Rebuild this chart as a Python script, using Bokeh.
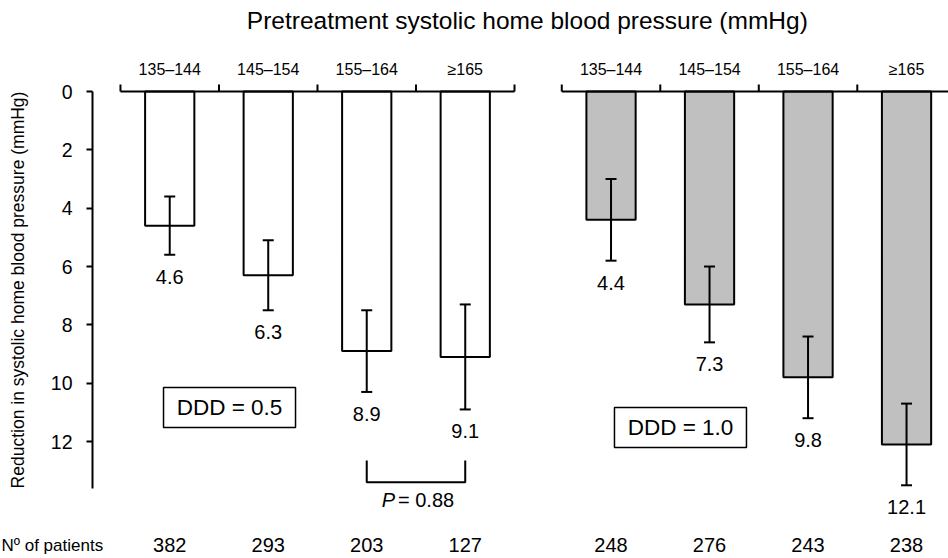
from bokeh.plotting import figure
from bokeh.models import (Range1d, LinearAxis, FixedTicker, ColumnDataSource,
                          Whisker, TeeHead)
from bokeh.core.properties import value
from bokeh.embed import file_html
from bokeh.resources import INLINE

# ---------------- data ----------------
categories = ["135–144", "145–154", "155–164", "≥165"]
ddd05_mean = [4.6, 6.3, 8.9, 9.1]
ddd05_err = [1.0, 1.2, 1.4, 1.8]
ddd10_mean = [4.4, 7.3, 9.8, 12.1]
ddd10_err = [1.4, 1.3, 1.4, 1.4]
ddd05_n = [382, 293, 203, 127]
ddd10_n = [248, 276, 243, 238]
y_ticks = [0, 2, 4, 6, 8, 10, 12]
group_labels = ["DDD = 0.5", "DDD = 1.0"]
p_value_label = "= 0.88"
title_text = "Pretreatment systolic home blood pressure (mmHg)"
y_label = "Reduction in systolic home blood pressure (mmHg)"
n_label = "Nº of patients"

# ---------------- layout constants ----------------
FONT = "Liberation Sans"
GAP = 0.48          # gap between the two groups (category units)
BAR_W = 0.5
Y_AXIS_X = -0.284   # position of the vertical axis
Y_AXIS_END = 13.6
TICK_LEN = 0.24     # top-axis tick length (data units)
N_ROW_Y = 15.56
TEXT = "black"

left_start = 0.0
right_start = 4 + GAP
left_x = [left_start + i + 0.5 for i in range(4)]
right_x = [right_start + i + 0.5 for i in range(4)]


def make_source(xs, means, errs, ns):
    return ColumnDataSource(dict(
        x=xs, mean=means,
        lower=[m - e for m, e in zip(means, errs)],
        upper=[m + e for m, e in zip(means, errs)],
        label=[f"{m:.1f}" for m in means],
        n=[str(n) for n in ns],
    ))


src05 = make_source(left_x, ddd05_mean, ddd05_err, ddd05_n)
src10 = make_source(right_x, ddd10_mean, ddd10_err, ddd10_n)

p = figure(width=948, height=558,
           x_range=Range1d(-1.218, 8.406), y_range=Range1d(16.01, -3.12),
           x_axis_type=None, y_axis_type=None,
           toolbar_location=None, output_backend="svg",
           min_border=0, outline_line_color=None,
           background_fill_color="white", border_fill_color="white")

# ---------------- vertical axis ----------------
yaxis = LinearAxis(fixed_location=Y_AXIS_X, bounds=(0, Y_AXIS_END),
                   ticker=FixedTicker(ticks=y_ticks, minor_ticks=[]),
                   axis_label=y_label,
                   axis_label_text_font=FONT, axis_label_text_font_size="17.5px",
                   axis_label_text_font_style="normal", axis_label_text_color=TEXT,
                   axis_label_standoff=20,
                   major_label_text_font=FONT, major_label_text_font_size="19.5px",
                   major_label_text_color=TEXT, major_label_standoff=14,
                   major_tick_out=6, major_tick_in=0, minor_tick_out=0, minor_tick_in=0,
                   axis_line_width=2, major_tick_line_width=2,
                   axis_line_color=TEXT, major_tick_line_color=TEXT)
p.add_layout(yaxis, "left")

# ---------------- bars ----------------
p.vbar(x="x", top="mean", bottom=0, width=BAR_W, source=src05,
       fill_color="white", line_color=TEXT, line_width=2)
p.vbar(x="x", top="mean", bottom=0, width=BAR_W, source=src10,
       fill_color="#c0c0c0", line_color=TEXT, line_width=2)

# ---------------- top category axes (one per dose group) ----------------
for start, centers in [(left_start, left_x), (right_start, right_x)]:
    bounds = [start + i for i in range(5)]
    p.segment(x0=[start], y0=[0], x1=[start + 4], y1=[0],
              line_color=TEXT, line_width=2)
    p.segment(x0=bounds, y0=[0] * 5, x1=bounds, y1=[-TICK_LEN] * 5,
              line_color=TEXT, line_width=2)
    p.text(x=centers, y=[0] * 4, text=categories, y_offset=-22,
           text_align="center", text_baseline="middle",
           text_font=value(FONT), text_font_size="16px", text_color=TEXT)

# ---------------- error bars ----------------
for src in (src05, src10):
    w = Whisker(base="x", lower="lower", upper="upper", source=src,
                line_color=TEXT, line_width=2, level="overlay",
                upper_head=TeeHead(size=11, line_width=2, line_color=TEXT),
                lower_head=TeeHead(size=11, line_width=2, line_color=TEXT))
    p.add_layout(w)

    # value labels under error bars
    p.text(x="x", y="upper", text="label", source=src, y_offset=22,
           text_align="center", text_baseline="middle",
           text_font=value(FONT), text_font_size="20px", text_color=TEXT)

    # number of patients
    p.text(x="x", y=N_ROW_Y, text="n", source=src,
           text_align="center", text_baseline="middle",
           text_font=value(FONT), text_font_size="20px", text_color=TEXT)

p.text(x=[-1.208], y=[N_ROW_Y], text=[n_label],
       text_align="left", text_baseline="middle",
       text_font=value(FONT), text_font_size="17px", text_color=TEXT)

# ---------------- P-value bracket ----------------
bx0, bx1 = left_x[2], left_x[3]
p.line(x=[bx0, bx0, bx1, bx1], y=[12.65, 13.4, 13.4, 12.65],
       line_color=TEXT, line_width=2)
pmid = (bx0 + bx1) / 2
p.text(x=[pmid], y=[14.02], text=["P"], x_offset=-21,
       text_align="right", text_baseline="middle", text_font_style="italic",
       text_font=value(FONT), text_font_size="20px", text_color=TEXT)
p.text(x=[pmid], y=[14.02], text=[p_value_label], x_offset=-18,
       text_align="left", text_baseline="middle",
       text_font=value(FONT), text_font_size="20px", text_color=TEXT)

# ---------------- DDD boxes ----------------
box_x = [1.107, 5.685]
box_y = [10.83, 11.52]
p.rect(x=box_x, y=box_y, width=132, height=40,
       width_units="screen", height_units="screen",
       fill_color="white", line_color=TEXT, line_width=1.5)
p.text(x=box_x, y=box_y, text=group_labels,
       text_align="center", text_baseline="middle",
       text_font=value(FONT), text_font_size="22.5px", text_color=TEXT)

# ---------------- title ----------------
p.text(x=[4.13], y=[-2.43], text=[title_text],
       text_align="center", text_baseline="middle",
       text_font=value(FONT), text_font_size="24.5px", text_color=TEXT)

open("out.html", "w").write(file_html(p, INLINE))
